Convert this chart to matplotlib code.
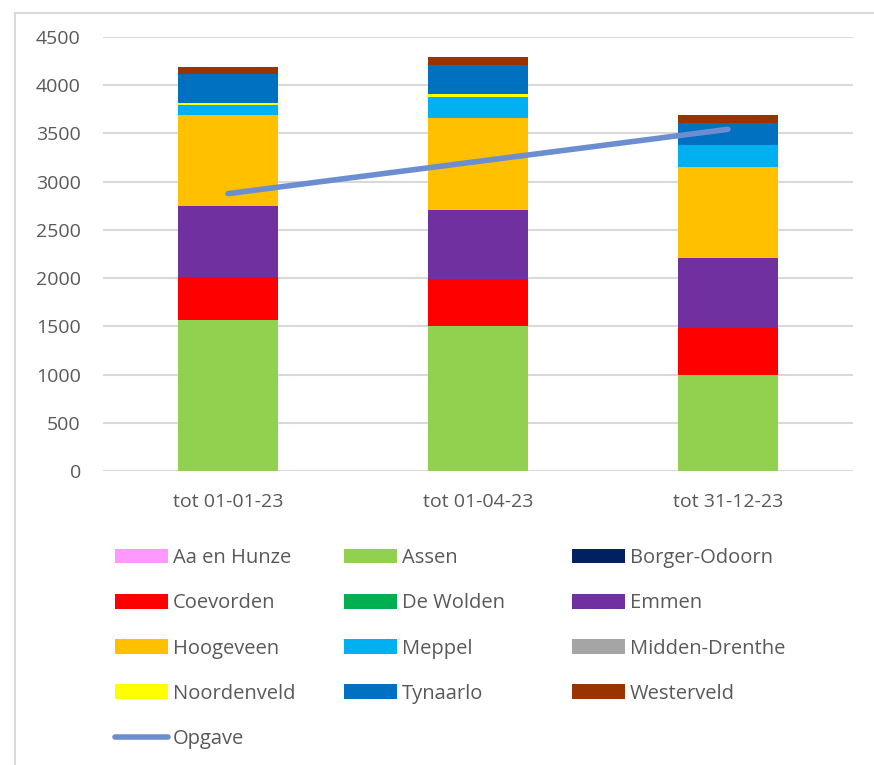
import matplotlib
matplotlib.use("Agg")
import matplotlib.pyplot as plt
import numpy as np
from matplotlib.patches import Patch
from matplotlib.lines import Line2D

plt.rcParams['font.family'] = ['Open Sans', 'DejaVu Sans']

categories = ["tot 01-01-23", "tot 01-04-23", "tot 31-12-23"]
gemeenten = ["Aa en Hunze", "Assen", "Borger-Odoorn", "Coevorden", "De Wolden", "Emmen",
             "Hoogeveen", "Meppel", "Midden-Drenthe", "Noordenveld", "Tynaarlo", "Westerveld"]
aa_en_hunze = [0, 0, 0]
assen = [1563, 1500, 997]
borger_odoorn = [0, 0, 0]
coevorden = [445, 487, 486]
de_wolden = [0, 0, 0]
emmen = [736, 722, 729]
hoogeveen = [945, 948, 942]
meppel = [104, 222, 229]
midden_drenthe = [0, 0, 0]
noordenveld = [21, 25, 0]
tynaarlo = [302, 306, 230]
westerveld = [70, 80, 79]
opgave = [2876, 3210, 3543]

series = [aa_en_hunze, assen, borger_odoorn, coevorden, de_wolden, emmen,
          hoogeveen, meppel, midden_drenthe, noordenveld, tynaarlo, westerveld]
colors = ["#FF99FF", "#92D050", "#002060", "#FF0000", "#00B050", "#7030A0",
          "#FFC000", "#00B0F0", "#A5A5A5", "#FFFF00", "#0070C0", "#993300"]
line_color = "#6C8ED0"
text_color = "#595959"
grid_color = "#D9D9D9"

W, H = 874, 765
fig = plt.figure(figsize=(W / 100, H / 100), dpi=100)
ax = fig.add_axes([103 / W, 1 - 471 / H, 750 / W, 434 / H])

x = np.arange(len(categories))
bottom = np.zeros(len(categories))
for vals, c in zip(series, colors):
    v = np.array(vals, dtype=float)
    ax.bar(x, v, width=0.4, bottom=bottom, color=c, edgecolor="none", zorder=2)
    bottom += v

ax.plot(x, opgave, color=line_color, lw=4, solid_capstyle="round", zorder=3)

ax.set_xlim(-0.5, 2.5)
ax.set_ylim(0, 4500)
ax.set_yticks(np.arange(0, 4501, 500))
ax.set_xticks(x)
ax.set_xticklabels(categories)
ax.yaxis.grid(True, color=grid_color, lw=1.5, zorder=0)
ax.set_axisbelow(True)
for s in ["top", "right", "left", "bottom"]:
    ax.spines[s].set_visible(False)
ax.tick_params(axis="both", length=0, labelsize=14, colors=text_color)
ax.tick_params(axis="y", pad=16)
ax.tick_params(axis="x", pad=16)

# chart border (left and top)
fig.add_artist(Line2D([15 / W, 15 / W], [0, 1 - 13 / H], color=grid_color, lw=1.5))
fig.add_artist(Line2D([15 / W, 1], [1 - 13 / H, 1 - 13 / H], color=grid_color, lw=1.5))

# legend: three columns, filled row-wise
handles = [Patch(facecolor=c, edgecolor="none") for c in colors]
labels = list(gemeenten)
handles.append(Line2D([0], [0], color=line_color, lw=4, solid_capstyle="round"))
labels.append("Opgave")

fs = 14.5
fpx = fs * 100 / 72
col_x = [115, 344, 572]
for ci in range(3):
    idx = list(range(ci, len(labels), 3))
    leg = fig.legend([handles[i] for i in idx], [labels[i] for i in idx],
                     loc="upper left", bbox_to_anchor=(col_x[ci] / W, 1 - 548 / H),
                     frameon=False, fontsize=fs, handlelength=53 / fpx, handleheight=15 / fpx,
                     handletextpad=5 / fpx, labelspacing=1.255, borderaxespad=0, borderpad=0)
    for t in leg.get_texts():
        t.set_color(text_color)

fig.savefig("out.png", dpi=100)
